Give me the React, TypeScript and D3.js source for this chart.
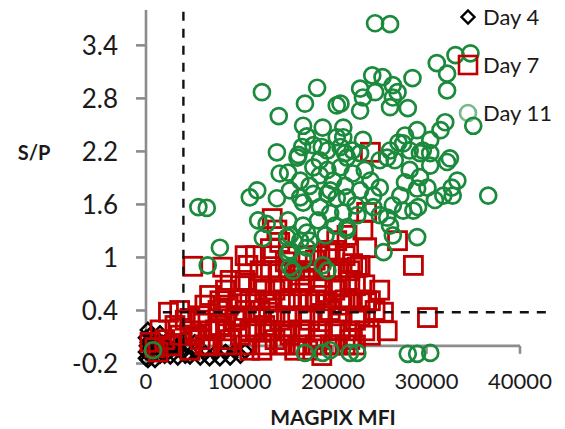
import * as d3 from "d3";
import React from "react";

// Day 4 (black diamonds)
const day4Points: [number, number][] = [
  [0, -0.07], [0, -0.14], [0, 0.09], [100, 0.0], [200, 0.04], [200, -0.16], [200, 0.18],
  [430, -0.05], [430, 0.12], [640, -0.11], [640, 0.01], [960, 0.09], [960, -0.16],
  [1300, -0.01], [1300, 0.07], [1500, -0.11], [1500, 0.14], [1800, 0.03], [2000, -0.11],
  [2100, -0.05], [2600, -0.12], [2600, -0.02], [2800, 0.07], [3100, -0.02], [3400, -0.13],
  [3400, 0.01], [3900, -0.07], [4200, 0.09], [4200, -0.11], [4300, 0.01], [4700, -0.12],
  [5200, -0.05], [5200, 0.04], [5800, -0.13], [6300, -0.08], [6800, -0.14], [7400, -0.08],
  [7900, -0.14], [8500, -0.07], [9000, -0.13], [9500, -0.06], [10100, -0.11], [10600, -0.06],
];

// Day 7 (red squares)
const day7Points: [number, number][] = [
  [430, 0.04], [960, -0.02], [1300, -0.07], [1500, 0.18], [2000, 0.07], [2400, 0.38],
  [2600, 0.0], [3100, 0.23], [3600, 0.12], [3600, 0.4], [4200, 0.29], [4700, -0.05],
  [4700, 0.31], [5000, 0.9], [5200, 0.12], [5800, 0.29], [5800, 0.07], [6300, 0.46],
  [6800, 0.0], [6800, 0.57], [7400, 0.18], [7700, 0.4], [7900, 0.23], [8200, 0.89],
  [8500, 0.63], [8800, 0.46], [9000, 0.07], [9000, 0.74], [9500, 0.29], [10100, 0.52],
  [10100, 0.12], [10600, 0.74], [10600, 0.4], [10600, 1.02], [10900, 0.91], [11100, -0.05],
  [11700, 0.18], [11700, 0.52], [11700, 1.02], [12200, 0.4], [12400, -0.05], [12700, 0.63],
  [12700, 0.23], [13100, 0.38], [13300, 0.85], [13300, 1.1], [13500, 1.44], [13800, 0.07],
  [13800, 0.63], [14000, 1.31], [14300, 0.29], [14300, 1.17], [14900, 0.52], [14900, 0.95],
  [14900, 0.01], [15400, 0.74], [15400, 0.12], [15900, -0.05], [16300, 0.52], [16500, 0.18],
  [16500, 0.8], [17000, 0.74], [17300, -0.05], [17500, 0.29], [18100, 0.52], [18100, 0.97],
  [18600, 0.07], [18600, 0.57], [18800, -0.11], [19200, 0.85], [19400, 1.08], [19700, 0.4],
  [19700, 0.01], [19700, 1.05], [20200, 0.63], [20200, 1.08], [20400, 1.19], [20500, 0.88],
  [20800, 0.18], [20800, 0.46], [21300, 0.52], [21500, 1.25], [21800, 0.74], [21800, 0.07],
  [22100, 0.93], [22400, 0.29], [22400, 0.01], [22600, 0.89], [22900, 0.52], [22900, 0.91],
  [23200, 1.31], [23400, 0.69], [23600, 1.51], [23600, 1.11], [23600, 0.51], [24000, 0.12],
  [24000, 2.19], [24500, 0.4], [25000, 0.63], [25400, 0.38], [25800, 0.17], [26900, 1.19],
  [28600, 0.91], [30100, 0.32],
  [6300, 0.01], [8500, 0.01], [10600, 0.01], [12700, 0.01], [14300, 0.01], [16500, 0.01],
  [18100, 0.01], [20200, 0.01], [21300, 0.01],
  [4700, 0.17], [6800, 0.17], [8500, 0.17], [11100, 0.17], [13300, 0.17], [14900, 0.17],
  [17000, 0.17], [18600, 0.17], [20200, 0.17], [21800, 0.17], [23400, 0.17],
  [5800, 0.34], [8500, 0.34], [10100, 0.34], [11700, 0.34], [13800, 0.34], [15400, 0.34],
  [17000, 0.34], [18600, 0.34], [20800, 0.34], [22900, 0.34],
  [7900, 0.51], [11100, 0.51], [13300, 0.51], [15400, 0.51], [17500, 0.51], [19200, 0.51],
  [21800, 0.51], [24000, 0.51],
  [10100, 0.68], [12200, 0.68], [14300, 0.68], [16500, 0.68], [18600, 0.68], [20800, 0.68],
  [22400, 0.68],
  [12200, 0.85], [14300, 0.85], [15900, 0.85], [17500, 0.85], [19700, 0.85], [21800, 0.85],
  [13300, 1.02], [15400, 1.02], [17000, 1.02], [18600, 1.02], [21300, 1.02],
];

// Day 11 (green circles)
const day11Points: [number, number][] = [
  [750, -0.05], [5600, 1.57], [6500, 1.56], [6600, 0.91], [7900, 1.11], [11100, 1.68],
  [11900, 1.76], [12000, 1.42], [12400, 2.87], [12500, 1.22], [12900, 1.38], [14000, 2.19],
  [14000, 1.67], [14200, 2.6], [14300, 1.95], [15100, 1.23], [15200, 1.96], [15200, 1.42],
  [15200, 1.05], [15400, 1.08], [15400, 1.25], [15400, 0.89], [15400, 1.76], [15700, 0.85],
  [16200, 2.13], [16300, 2.16], [16500, 1.68], [16500, 1.19], [16500, 1.87], [16700, 2.25],
  [16800, 2.49], [16800, 1.62], [16800, 1.36], [16800, 0.97], [17000, 2.74], [17000, -0.08],
  [17200, 2.37], [17200, 1.28], [17200, 1.11], [17500, 1.19], [17500, 1.81], [17900, 2.27],
  [17900, 2.02], [17900, 1.72], [18300, 2.92], [18400, 1.42], [18600, 1.93], [18600, 1.57],
  [18600, 2.1], [18800, 2.25], [18900, 2.47], [18900, 0.91], [18900, -0.08], [19200, 1.25],
  [19400, 2.21], [19400, 1.99], [19400, 1.72], [19400, 0.85], [19700, 1.5], [19700, -0.05],
  [19700, 1.76], [20000, 1.87], [20200, 1.36], [20400, 2.72], [20400, 2.36], [20400, 1.67],
  [20800, 2.74], [20800, 2.25], [20800, 2.02], [21100, 2.47], [21100, 2.36], [21100, 1.51],
  [21300, 2.18], [21300, 1.81], [21500, 2.13], [21500, 1.68], [21500, 1.34], [21500, 1.31],
  [21800, -0.08], [22100, 2.21], [22100, 1.95], [22400, 1.59], [22600, -0.08], [22600, 1.48],
  [22900, 2.91], [22900, 2.66], [22900, 2.18], [22900, 1.76], [23200, 2.81], [23200, 2.33],
  [23400, 1.99], [24000, 1.87], [24200, 3.06], [24300, 1.7], [24300, 1.57], [24500, 3.65],
  [24500, 2.87], [25000, 2.1], [25000, 1.79], [25000, 1.48], [25300, 3.04], [25400, 1.06],
  [25800, 2.13], [25800, 1.45], [26100, 3.64], [26100, 2.7], [26100, 2.21], [26100, 1.36],
  [26400, 2.95], [26400, 2.81], [26400, 1.59], [26400, 1.25], [26600, 2.1], [26900, 2.87],
  [27000, 2.3], [27200, 1.7], [27500, 2.29], [27500, 1.53], [27700, 2.38], [27700, 1.85],
  [28000, 2.69], [28000, -0.09], [28200, 1.99], [28200, 2.21], [28500, 3.03], [28600, 1.53],
  [29000, 2.44], [29000, 1.78], [29000, 1.23], [29000, -0.09], [29100, 1.57], [29300, 2.18],
  [29300, 1.91], [29600, 2.21], [30100, 1.79], [30400, 2.33], [30400, 2.18], [30400, 2.04],
  [30400, -0.08], [30900, 1.65], [31100, 3.2], [31500, 2.44], [31800, 1.7], [32000, 2.53],
  [32200, 3.08], [32200, 2.89], [32200, 2.08], [32500, 2.12], [32700, 1.79], [32800, 1.7],
  [33100, 3.29], [33300, 1.87], [34700, 3.31], [35000, 2.49], [36600, 1.7],
];

const xTicks = [0, 10000, 20000, 30000, 40000];
const yTicks = [-0.2, 0.4, 1, 1.6, 2.2, 2.8, 3.4];
const legendLabels = ["Day 4", "Day 7", "Day 11"];
const cutoffX = 4000;
const cutoffY = 0.38;

const GREEN = "#1b8a3c";
const RED = "#c00000";
const AXIS = "#8c8c8c";
const FONT = "Lato, 'Open Sans', sans-serif";

const x = d3.scaleLinear().domain([0, 40000]).range([146, 520]);
const y = d3.scaleLinear().domain([-0.2, 3.8]).range([363.5, 10]);

const diamond = (cx: number, cy: number, r: number) =>
  `M${cx},${cy - r}L${cx + r},${cy}L${cx},${cy + r}L${cx - r},${cy}Z`;

const SQ = 18;
const CR = 8;

export default function App() {
  const legendY = [17, 65, 113];
  return (
    <svg width={565} height={429} style={{ position: "absolute", left: 0, top: 0, background: "#fff" }}>
      {/* y axis */}
      <line x1={x(0)} x2={x(0)} y1={y(3.8)} y2={y(-0.2)} stroke={AXIS} strokeWidth={2.6} />
      {yTicks.map((t) => (
        <g key={t}>
          <line x1={x(0) - 10} x2={x(0)} y1={y(t)} y2={y(t)} stroke={AXIS} strokeWidth={2.6} />
          <text x={118} y={y(t)} dy="0.36em" textAnchor="end" fontFamily={FONT} fontSize={26} fill="#1a1a1a">
            {String(t)}
          </text>
        </g>
      ))}
      {/* x axis at y = 0 */}
      <line x1={x(0)} x2={x(40000)} y1={y(0)} y2={y(0)} stroke={AXIS} strokeWidth={2.6} />
      {xTicks.map((t) => (
        <g key={t}>
          <line x1={x(t)} x2={x(t)} y1={y(0)} y2={y(0) + 8} stroke={AXIS} strokeWidth={2.6} />
          <text x={x(t)} y={389} textAnchor="middle" fontFamily={FONT} fontSize={22} fill="#1a1a1a">
            {t}
          </text>
        </g>
      ))}
      <text x={34} y={160} textAnchor="middle" fontFamily={FONT} fontWeight="bold" fontSize={20} fill="#1a1a1a">
        S/P
      </text>
      <text x={333} y={425} textAnchor="middle" fontFamily={FONT} fontWeight="bold" fontSize={21} fill="#1a1a1a">
        MAGPIX MFI
      </text>

      {/* series */}
      {day4Points.map(([a, b], i) => (
        <path key={"d4" + i} d={diamond(x(a), y(b), 7)} fill="none" stroke="#000" strokeWidth={2.6} />
      ))}
      {day7Points.map(([a, b], i) => (
        <rect key={"d7" + i} x={x(a) - SQ / 2} y={y(b) - SQ / 2} width={SQ} height={SQ}
          fill="none" stroke={RED} strokeWidth={2.8} />
      ))}
      {day11Points.map(([a, b], i) => (
        <circle key={"d11" + i} cx={x(a)} cy={y(b)} r={CR} fill="none" stroke={GREEN} strokeWidth={2.7} />
      ))}

      {/* cutoff lines */}
      <line x1={x(cutoffX)} x2={x(cutoffX)} y1={y(3.78)} y2={y(-0.13)} stroke="#111" strokeWidth={2.4} strokeDasharray="9,8" />
      <line x1={x(1800)} x2={x(43200)} y1={y(cutoffY)} y2={y(cutoffY)} stroke="#111" strokeWidth={2.4} strokeDasharray="9,8" />

      {/* legend */}
      {legendLabels.map((l, i) => (
        <g key={l}>
          {i === 0 && <path d={diamond(468, legendY[i], 6.5)} fill="#fff" stroke="#000" strokeWidth={2.4} />}
          {i === 1 && <rect x={468 - SQ / 2} y={legendY[i] - SQ / 2} width={SQ} height={SQ} fill="none" stroke={RED} strokeWidth={2.6} />}
          {i === 2 && <circle cx={468} cy={legendY[i]} r={CR} fill="none" stroke={GREEN} strokeOpacity={0.6} strokeWidth={2.6} />}
          <text x={483} y={legendY[i]} dy="0.36em" fontFamily={FONT} fontSize={22} fill="#1a1a1a">
            {l}
          </text>
        </g>
      ))}
    </svg>
  );
}
